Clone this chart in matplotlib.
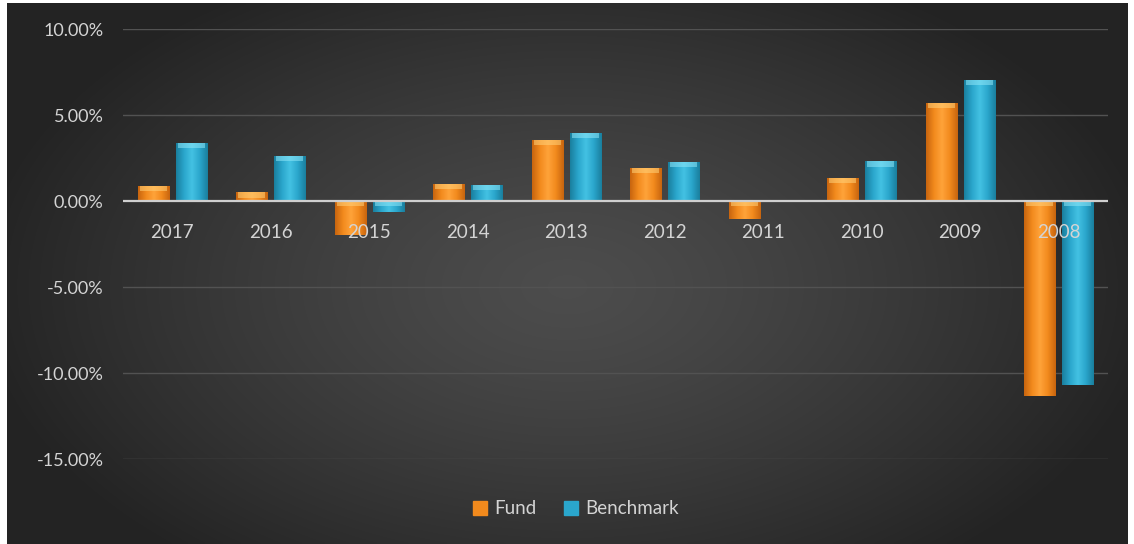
import numpy as np
import matplotlib
matplotlib.use("Agg")
import matplotlib.pyplot as plt
from matplotlib.patches import Rectangle
from matplotlib.colors import LinearSegmentedColormap

years = ["2017", "2016", "2015", "2014", "2013", "2012", "2011", "2010", "2009", "2008"]
fund = [0.87, 0.50, -2.00, 1.00, 3.55, 1.90, -1.05, 1.35, 5.70, -11.35]
benchmark = [3.40, 2.60, -0.65, 0.95, 3.95, 2.25, 0.05, 2.30, 7.05, -10.70]
yticks = [10, 5, 0, -5, -10, -15]
series_names = ["Fund", "Benchmark"]

W, H = 1134, 544
fig = plt.figure(figsize=(W / 100, H / 100), dpi=100)
fig.patch.set_facecolor("white")
plt.rcParams["font.family"] = ["Lato", "DejaVu Sans"]

# background gradient panel
bg = fig.add_axes([7 / W, 0, (1128 - 7) / W, (544 - 3) / H])
bg.set_axis_off()
gx, gy = np.meshgrid(np.linspace(-1, 1, 400), np.linspace(-1, 1, 200))
r = np.sqrt(((gx - 0.0) / 1.05) ** 2 + ((gy - 0.05) / 1.3) ** 2)
r = np.clip(r, 0, 1)
val = 0.30 - 0.16 * r ** 1.3
bg.imshow(np.dstack([val, val, val]), aspect="auto", extent=[0, 1, 0, 1], interpolation="bilinear")
bg.set_xlim(0, 1)
bg.set_ylim(0, 1)

ax = fig.add_axes([123 / W, (544 - 459) / H, 985 / W, (459 - 29) / H])
ax.patch.set_alpha(0)
ax.set_ylim(-15, 10)
ax.set_xlim(-0.5, len(years) - 0.5)

for t in yticks:
    if t != 0:
        ax.axhline(t, color="#525252", lw=1.0, zorder=1)
ax.axhline(0, color="#cfcfcf", lw=1.6, zorder=4)

x = np.arange(len(years))
bw = 0.315
gap = 0.07
off = (bw + gap) / 2

def grad_cmap(base_dark, base_mid, base_light):
    return LinearSegmentedColormap.from_list("g", [base_dark, base_mid, base_light, base_mid, base_dark])

cm_f = grad_cmap("#c8650f", "#f28a1d", "#ffa33a")
cm_b = grad_cmap("#1a7f9e", "#2aa6cc", "#44c2e3")
grad = np.linspace(0, 1, 64).reshape(1, -1)

for vals, dx, cm, top in [(fund, -off, cm_f, "#ffd27a"), (benchmark, off, cm_b, "#8fe6f7")]:
    bars = ax.bar(x + dx, vals, width=bw, color=cm(0.25), zorder=3, linewidth=0)
    for b, v in zip(bars, vals):
        x0, w = b.get_x(), b.get_width()
        y0, y1 = sorted([0, v])
        im = ax.imshow(grad, cmap=cm, extent=[x0, x0 + w, y0, y1], aspect="auto", zorder=3.1,
                       interpolation="bilinear")
        im.set_clip_path(b)
        if abs(v) > 0.1:
            cap_y = (v - 0.3) if v > 0 else -0.3
            ax.add_patch(Rectangle((x0 + w * 0.06, cap_y), w * 0.88, 0.3,
                                   color=top, alpha=0.55, zorder=3.2, lw=0))

ax.set_xticks([])
ax.set_yticks(yticks)
ax.set_yticklabels([f"{t:.2f}%" for t in yticks], fontsize=13, color="#d4d4d4")
ax.tick_params(axis="y", length=0, pad=14)
for s in ax.spines.values():
    s.set_visible(False)

for xi, lab in zip(x, years):
    ax.annotate(lab, (xi, 0), xytext=(0, -32), textcoords="offset pixels", ha="center", va="center",
                fontsize=13.5, color="#d4d4d4", zorder=6)

handles = [Rectangle((0, 0), 1, 1, color="#f28a1d"), Rectangle((0, 0), 1, 1, color="#2aa6cc")]
fig.legend(handles, series_names, loc="center", bbox_to_anchor=(576 / W, 1 - 509 / H), ncol=2, frameon=False,
           fontsize=13.5, labelcolor="#d4d4d4", handlelength=0.7, handleheight=0.7, handletextpad=0.4,
           columnspacing=1.5)

fig.savefig("out.png", dpi=100, facecolor=fig.get_facecolor())
